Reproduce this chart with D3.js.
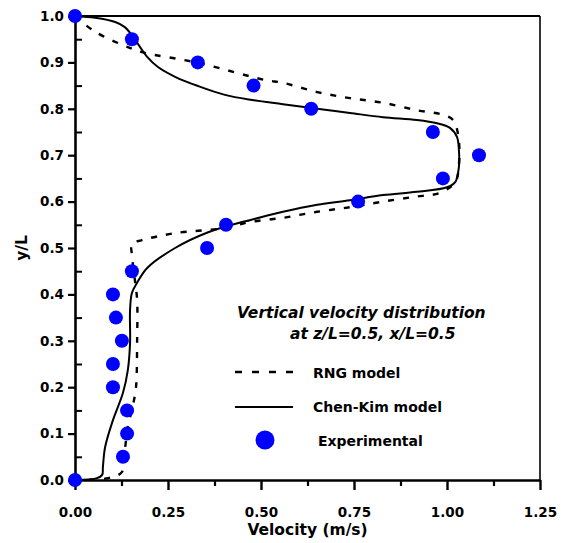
<!DOCTYPE html>
<html>
<head>
<meta charset="utf-8">
<script src="https://cdn.jsdelivr.net/npm/d3@7"></script>
<style>
  html, body { margin: 0; padding: 0; background: #fff; }
  svg text { font-family: "DejaVu Sans", sans-serif; font-weight: bold; fill: #000; }
</style>
</head>
<body>
<div id="chart"></div>
<script>
// values: [velocity (m/s), y/L]
const experimental = [
  [0.000, 1.00], [0.153, 0.95], [0.330, 0.90], [0.480, 0.85], [0.635, 0.80],
  [0.962, 0.75], [1.086, 0.70], [0.989, 0.65], [0.761, 0.60], [0.406, 0.55],
  [0.355, 0.50], [0.153, 0.45], [0.102, 0.40], [0.110, 0.35], [0.126, 0.30],
  [0.102, 0.25], [0.102, 0.20], [0.140, 0.15], [0.140, 0.10], [0.129, 0.05],
  [0.000, 0.00],
];

const chenKim = [
  [0, 1.0], [0.054, 0.996], [0.108, 0.987], [0.134, 0.976], [0.156, 0.955],
  [0.175, 0.933], [0.194, 0.912], [0.223, 0.890], [0.269, 0.869], [0.331, 0.849],
  [0.403, 0.830], [0.476, 0.819], [0.559, 0.810], [0.651, 0.800], [0.739, 0.791],
  [0.828, 0.782], [0.919, 0.776], [0.973, 0.769], [1.008, 0.759], [1.027, 0.739],
  [1.032, 0.711], [1.032, 0.675], [1.022, 0.642], [1.000, 0.631], [0.919, 0.621],
  [0.828, 0.614], [0.739, 0.603], [0.651, 0.593], [0.559, 0.578], [0.470, 0.560],
  [0.449, 0.556], [0.358, 0.534], [0.269, 0.500], [0.194, 0.457], [0.167, 0.425],
  [0.153, 0.403], [0.148, 0.366], [0.148, 0.295], [0.142, 0.237], [0.129, 0.188],
  [0.102, 0.129], [0.081, 0.071], [0.075, 0.028], [0.073, 0.011], [0.059, 0.004],
  [0, 0],
];

const rng = [
  [0, 1.0], [0.054, 0.966], [0.142, 0.933], [0.180, 0.922], [0.331, 0.899],
  [0.511, 0.862], [0.559, 0.856], [0.651, 0.836], [0.739, 0.823], [0.828, 0.813],
  [0.919, 0.797], [0.989, 0.787], [1.016, 0.776], [1.030, 0.744], [1.032, 0.679],
  [1.022, 0.642], [0.981, 0.619], [0.909, 0.610], [0.820, 0.599], [0.739, 0.588],
  [0.651, 0.578], [0.559, 0.565], [0.470, 0.556], [0.403, 0.543], [0.269, 0.532],
  [0.180, 0.517], [0.153, 0.509], [0.153, 0.485], [0.161, 0.431], [0.167, 0.388],
  [0.167, 0.302], [0.164, 0.200], [0.156, 0.162], [0.142, 0.114], [0.132, 0.050],
  [0.126, 0.017], [0.089, 0.004], [0, 0],
];

const xTicks = [0, 0.25, 0.5, 0.75, 1.0, 1.25];
const yTicks = [0, 0.1, 0.2, 0.3, 0.4, 0.5, 0.6, 0.7, 0.8, 0.9, 1.0];
const legendTitle = ['Vertical velocity distribution', 'at z/L=0.5, x/L=0.5'];
const legendLabels = ['RNG model', 'Chen-Kim model', 'Experimental'];

const width = 567;
const height = 543;
const margin = { left: 75, right: 27, top: 16, bottom: 63 };

const x = d3.scaleLinear().domain([0, 1.25]).range([margin.left, width - margin.right]);
const y = d3.scaleLinear().domain([0, 1]).range([height - margin.bottom, margin.top]);

const svg = d3.select('#chart').append('svg')
  .attr('width', width)
  .attr('height', height);

// frame (top and right are thinner)
svg.append('line')
  .attr('x1', x(0)).attr('x2', x(1.25))
  .attr('y1', y(1)).attr('y2', y(1))
  .attr('stroke', '#000').attr('stroke-width', 1.8);
svg.append('line')
  .attr('x1', x(1.25)).attr('x2', x(1.25))
  .attr('y1', y(1)).attr('y2', y(0))
  .attr('stroke', '#000').attr('stroke-width', 1.6);

// minor ticks
const xMinor = d3.range(0.125, 1.25, 0.25);
const yMinor = d3.range(0.05, 1, 0.1);

svg.append('g')
  .attr('transform', `translate(0,${y(0)})`)
  .call(d3.axisBottom(x).tickValues(xMinor).tickSize(6).tickFormat(''))
  .call((g) => g.select('.domain').remove())
  .selectAll('line').attr('stroke-width', 2.2);

svg.append('g')
  .attr('transform', `translate(${x(0)},0)`)
  .call(d3.axisLeft(y).tickValues(yMinor).tickSize(-7).tickFormat(''))
  .call((g) => g.select('.domain').remove())
  .selectAll('line').attr('stroke-width', 2);

// major axes
const xAxis = svg.append('g')
  .attr('transform', `translate(0,${y(0)})`)
  .call(d3.axisBottom(x).tickValues(xTicks).tickSize(10).tickPadding(17)
    .tickSizeOuter(0).tickFormat(d3.format('.2f')));
xAxis.select('.domain').attr('stroke-width', 2.6);
xAxis.selectAll('.tick line').attr('stroke-width', 2.4);
xAxis.selectAll('text').style('font-size', '13.5px').style('font-family', null);

const yAxis = svg.append('g')
  .attr('transform', `translate(${x(0)},0)`)
  .call(d3.axisLeft(y).tickValues(yTicks).tickSize(7).tickPadding(4)
    .tickSizeOuter(0).tickFormat(d3.format('.1f')));
yAxis.select('.domain').attr('stroke-width', 2.6);
yAxis.selectAll('.tick line').attr('stroke-width', 2.2);
yAxis.selectAll('text').style('font-size', '13.5px').style('font-family', null);
svg.selectAll('.domain').attr('stroke', '#000');
svg.selectAll('.tick text').attr('font-family', null);

// axis titles
svg.append('text')
  .attr('x', (x(0) + x(1.25)) / 2)
  .attr('y', 535)
  .attr('text-anchor', 'middle')
  .style('font-size', '15.5px')
  .text('Velocity (m/s)');

svg.append('text')
  .attr('transform', `translate(27,${(y(0) + y(1)) / 2}) rotate(-90)`)
  .attr('text-anchor', 'middle')
  .style('font-size', '15.5px')
  .text('y/L');

// curves
const line = d3.line()
  .x((d) => x(d[0]))
  .y((d) => y(d[1]))
  .curve(d3.curveCatmullRom.alpha(0.5));

svg.append('path')
  .datum(rng)
  .attr('d', line)
  .attr('fill', 'none')
  .attr('stroke', '#000')
  .attr('stroke-width', 2.4)
  .attr('stroke-dasharray', '6,9');

svg.append('path')
  .datum(chenKim)
  .attr('d', line)
  .attr('fill', 'none')
  .attr('stroke', '#000')
  .attr('stroke-width', 2);

svg.append('g')
  .selectAll('circle')
  .data(experimental)
  .enter()
  .append('circle')
  .attr('cx', (d) => x(d[0]))
  .attr('cy', (d) => y(d[1]))
  .attr('r', 7)
  .attr('fill', '#0000ff');

// legend
const legend = svg.append('g').attr('class', 'legend');
legend.append('text')
  .attr('x', 237).attr('y', 318)
  .style('font-size', '15.5px').style('font-style', 'italic')
  .text(legendTitle[0]);
legend.append('text')
  .attr('x', 290).attr('y', 339)
  .style('font-size', '15.5px').style('font-style', 'italic')
  .text(legendTitle[1]);

legend.append('line')
  .attr('x1', 235).attr('x2', 295).attr('y1', 372).attr('y2', 372)
  .attr('stroke', '#000').attr('stroke-width', 2.4).attr('stroke-dasharray', '7,10');
legend.append('text')
  .attr('x', 313).attr('y', 378)
  .style('font-size', '14px')
  .text(legendLabels[0]);

legend.append('line')
  .attr('x1', 235).attr('x2', 293).attr('y1', 407).attr('y2', 407)
  .attr('stroke', '#000').attr('stroke-width', 2);
legend.append('text')
  .attr('x', 313).attr('y', 412)
  .style('font-size', '14px')
  .text(legendLabels[1]);

legend.append('circle')
  .attr('cx', 265).attr('cy', 440).attr('r', 9.5)
  .attr('fill', '#0000ff');
legend.append('text')
  .attr('x', 318).attr('y', 446)
  .style('font-size', '14px')
  .text(legendLabels[2]);
</script>
</body>
</html>
